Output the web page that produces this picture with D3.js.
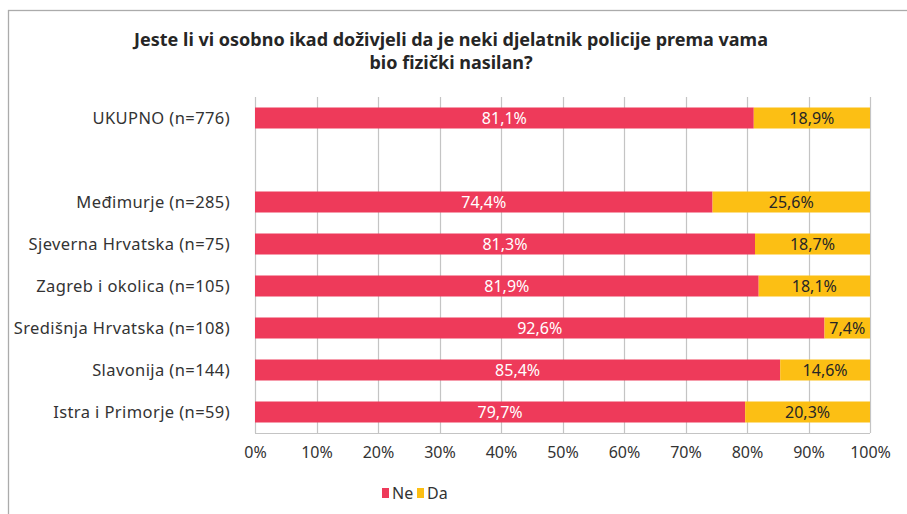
<!DOCTYPE html>
<html>
<head>
<meta charset="utf-8">
<script src="https://cdn.jsdelivr.net/npm/d3@7"></script>
<style>
  html, body { margin: 0; padding: 0; background: #fff; }
  svg { display: block; font-family: "Noto Sans", "DejaVu Sans", sans-serif; }
</style>
</head>
<body>
<svg id="chart" width="907" height="514"></svg>
<script>
// Survey answers by region (share of respondents, %)
const categories = [
  "UKUPNO (n=776)",
  "",
  "Međimurje (n=285)",
  "Sjeverna Hrvatska (n=75)",
  "Zagreb i okolica (n=105)",
  "Središnja Hrvatska (n=108)",
  "Slavonija (n=144)",
  "Istra i Primorje (n=59)"
];
const ne = [81.1, null, 74.4, 81.3, 81.9, 92.6, 85.4, 79.7];
const da = [18.9, null, 25.6, 18.7, 18.1, 7.4, 14.6, 20.3];
const xTicks = [0, 10, 20, 30, 40, 50, 60, 70, 80, 90, 100];
const seriesNames = ["Ne", "Da"];
const colors = { Ne: "#EE3A5A", Da: "#FCBF14" };
const titleLines = [
  "Jeste li vi osobno ikad doživjeli da je neki djelatnik policije prema vama",
  "bio fizički nasilan?"
];

const svg = d3.select("#chart");
const margin = { left: 255, right: 37, top: 97, bottom: 81 };
const W = 907, H = 514;
const plotW = W - margin.left - margin.right;
const plotH = H - margin.top - margin.bottom;

// Outer frame
svg.append("rect")
  .attr("x", 8.5).attr("y", 10.5)
  .attr("width", 910).attr("height", 520)
  .attr("fill", "none").attr("stroke", "#ababab").attr("stroke-width", 1.3);

// Title
svg.append("g").selectAll("text").data(titleLines).join("text")
  .attr("x", 451).attr("y", (d, i) => 46 + i * 23)
  .attr("text-anchor", "middle")
  .attr("font-size", 18).attr("font-weight", "bold").attr("fill", "#262626")
  .text(d => d);

const x = d3.scaleLinear().domain([0, 100]).range([margin.left, margin.left + plotW]);
const y = d3.scaleBand().domain(d3.range(categories.length))
  .range([margin.top, margin.top + plotH]).paddingInner(0.5).paddingOuter(0.25);

// Vertical gridlines
svg.append("g").selectAll("line").data(xTicks).join("line")
  .attr("x1", d => Math.round(x(d)) + 0.5).attr("x2", d => Math.round(x(d)) + 0.5)
  .attr("y1", margin.top).attr("y2", margin.top + plotH)
  .attr("stroke", "#c4c4c4").attr("stroke-width", 1.2);

// Bottom axis line
svg.append("line")
  .attr("x1", x(0)).attr("x2", x(100))
  .attr("y1", margin.top + plotH + 0.5).attr("y2", margin.top + plotH + 0.5)
  .attr("stroke", "#c4c4c4").attr("stroke-width", 1.2);

// X axis labels
const xAxis = d3.axisBottom(x).tickValues(xTicks).tickFormat(d => d + "%").tickSize(0).tickPadding(14);
const gx = svg.append("g").attr("transform", `translate(0,${margin.top + plotH})`).call(xAxis);
gx.select(".domain").remove();
gx.selectAll("text").attr("font-size", 16).attr("fill", "#333").attr("font-family", "\"Noto Sans\", sans-serif");

// Category labels
svg.append("g").selectAll("text").data(categories).join("text")
  .attr("x", 230).attr("y", (d, i) => y(i) + y.bandwidth() / 2)
  .attr("dy", "0.35em").attr("text-anchor", "end")
  .attr("font-size", 16.5).attr("letter-spacing", 0.4).attr("fill", "#333")
  .text(d => d);

const fmt = v => v.toFixed(1).replace(".", ",") + "%";

// Stacked bars
const rows = categories.map((c, i) => ({ i, Ne: ne[i], Da: da[i] })).filter(r => r.Ne != null);
const stack = d3.stack().keys(seriesNames)(rows);

const layers = svg.append("g").selectAll("g").data(stack).join("g")
  .attr("fill", d => colors[d.key]);
layers.selectAll("rect").data(d => d).join("rect")
  .attr("x", d => x(d[0])).attr("width", d => x(d[1]) - x(d[0]))
  .attr("y", d => y(d.data.i)).attr("height", y.bandwidth());

// Value labels
const labels = svg.append("g").selectAll("g").data(stack).join("g");
labels.selectAll("text").data(d => d.map(v => ({ v, key: d.key }))).join("text")
  .attr("x", d => (x(d.v[0]) + x(d.v[1])) / 2)
  .attr("y", d => y(d.v.data.i) + y.bandwidth() / 2)
  .attr("dy", "0.36em").attr("text-anchor", "middle")
  .attr("font-size", 16)
  .attr("fill", d => d.key === "Ne" ? "#fff" : "#262626")
  .text(d => fmt(d.v.data[d.key]));

// Legend
const legend = svg.append("g").attr("transform", "translate(382,493)");
const items = [{ k: "Ne", x: 0 }, { k: "Da", x: 35 }];
legend.selectAll("rect").data(items).join("rect")
  .attr("x", d => d.x).attr("y", -5).attr("width", 7).attr("height", 10)
  .attr("fill", d => colors[d.k]);
legend.selectAll("text").data(items).join("text")
  .attr("x", d => d.x + 10).attr("y", 0).attr("dy", "0.35em")
  .attr("font-size", 16).attr("fill", "#333")
  .text(d => d.k);
</script>
</body>
</html>
